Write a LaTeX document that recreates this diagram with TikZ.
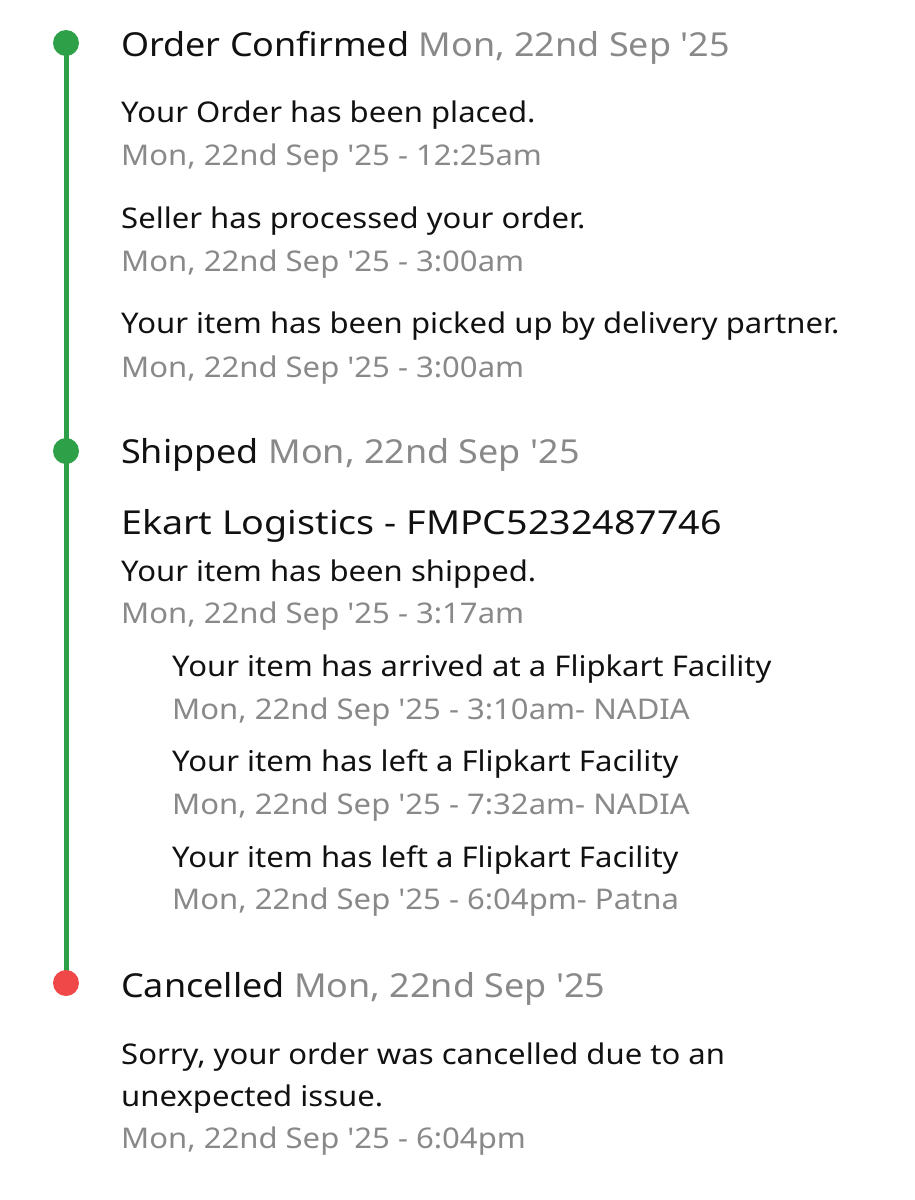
\documentclass[tikz,border=0pt]{standalone}
\usepackage{fontspec}
\usetikzlibrary{backgrounds}
\newfontfamily\ui{Noto Sans}[FakeStretch=1.09]
\newfontfamily\uix{Noto Sans}[FakeStretch=1.14]
\definecolor{okgreen}{RGB}{46,160,72}
\definecolor{badred}{RGB}{240,72,72}
\definecolor{txtgray}{RGB}{137,137,137}
\definecolor{txtblack}{RGB}{17,17,17}
\tikzset{
  head/.style={anchor=base west, inner sep=0pt, text=txtblack, font=\ui\fontsize{33}{39}\selectfont},
  carrier/.style={anchor=base west, inner sep=0pt, text=txtblack, font=\uix\fontsize{33}{39}\selectfont},
  body/.style={anchor=base west, inner sep=0pt, text=txtblack, font=\ui\fontsize{28.5}{34}\selectfont},
  stamp/.style={anchor=base west, inner sep=0pt, text=txtgray, font=\ui\fontsize{28.5}{34}\selectfont},
  dot/.style={circle, minimum size=26pt, inner sep=0pt, fill=#1},
  rail/.style={draw=okgreen, line width=5pt}
}
\newcommand\hd[1]{\textcolor{txtgray}{#1}}
\begin{document}
\begin{tikzpicture}[x=1pt,y=-1pt]
\useasboundingbox (0,0) rectangle (915,1200);
\node[dot=okgreen] (d1) at (66,43) {};
\node[dot=okgreen] (d2) at (66,451) {};
\node[dot=badred] (d3) at (66,983) {};
\begin{scope}[on background layer]
\draw[rail] (d1.center) -- (d2.center) -- (d3.center);
\end{scope}

\node[head] (h1) at (121,56) {Order Confirmed \hd{Mon, 22nd Sep '25}};
\node[body] (a1) at (121,122) {Your Order has been placed.};
\node[stamp] (s1) at (121,165) {Mon, 22nd Sep '25 - 12:25am};
\node[body] (a2) at (121,228) {Seller has processed your order.};
\node[stamp] (s2) at (121,271) {Mon, 22nd Sep '25 - 3:00am};
\node[body] (a3) at (121,333) {Your item has been picked up by delivery partner.};
\node[stamp] (s3) at (121,377) {Mon, 22nd Sep '25 - 3:00am};

\node[head] (h2) at (121,463) {Shipped \hd{Mon, 22nd Sep '25}};
\node[carrier] (ek) at (121,534) {Ekart Logistics - FMPC5232487746};
\node[body] (b1) at (121,581) {Your item has been shipped.};
\node[stamp] (t1) at (121,623) {Mon, 22nd Sep '25 - 3:17am};
\node[body] (c1) at (172,676) {Your item has arrived at a Flipkart Facility};
\node[stamp] (u1) at (172,719) {Mon, 22nd Sep '25 - 3:10am- NADIA};
\node[body] (c2) at (172,771) {Your item has left a Flipkart Facility};
\node[stamp] (u2) at (172,814) {Mon, 22nd Sep '25 - 7:32am- NADIA};
\node[body] (c3) at (172,867) {Your item has left a Flipkart Facility};
\node[stamp] (u3) at (172,909) {Mon, 22nd Sep '25 - 6:04pm- Patna};

\node[head] (h3) at (121,997) {Cancelled \hd{Mon, 22nd Sep '25}};
\node[body] (e1) at (121,1064) {Sorry, your order was cancelled due to an};
\node[body] (e2) at (121,1106) {unexpected issue.};
\node[stamp] (e3) at (121,1148) {Mon, 22nd Sep '25 - 6:04pm};
\end{tikzpicture}
\end{document}
